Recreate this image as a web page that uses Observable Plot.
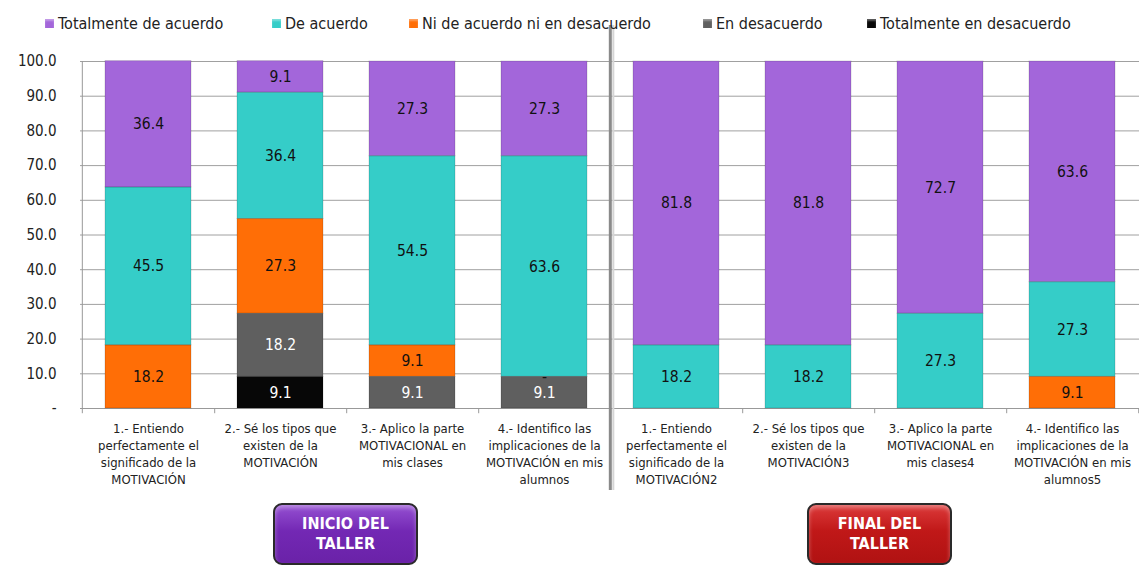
<!DOCTYPE html>
<html><head><meta charset="utf-8">
<script src="https://cdn.jsdelivr.net/npm/d3@7"></script>
<script src="https://cdn.jsdelivr.net/npm/@observablehq/plot@0.6"></script>
<style>
body{margin:0;background:#fff;font-family:"DejaVu Sans Condensed","DejaVu Sans",sans-serif;}
#wrap{position:relative;width:1139px;height:571px;overflow:hidden;}
#chart{position:absolute;left:0;top:0;}
.leg{position:absolute;top:12px;height:22px;font-size:16px;color:#222;display:flex;align-items:center;white-space:nowrap;}
.sw{width:9px;height:9px;margin-right:4px;box-shadow:inset 0 2px 2px rgba(255,255,255,0.35);}
.box{position:absolute;top:503px;width:145px;height:62px;border-radius:9px;border:2px solid #2a2a2a;box-sizing:border-box;color:#fff;font-weight:bold;font-size:16px;line-height:20px;text-align:center;display:flex;align-items:center;justify-content:center;white-space:pre;box-shadow:inset 0 3px 4px rgba(255,255,255,0.35);}
</style></head>
<body><div id="wrap"><div id="chart"></div></div>
<script>
const categories = [
  "1.- Entiendo\nperfectamente el\nsignificado de la\nMOTIVACIÓN",
  "2.- Sé los tipos que\nexisten de la\nMOTIVACIÓN",
  "3.- Aplico la parte\nMOTIVACIONAL en\nmis clases",
  "4.- Identifico las\nimplicaciones de la\nMOTIVACIÓN en mis\nalumnos",
  "1.- Entiendo\nperfectamente el\nsignificado de la\nMOTIVACIÓN2",
  "2.- Sé los tipos que\nexisten de la\nMOTIVACIÓN3",
  "3.- Aplico la parte\nMOTIVACIONAL en\nmis clases4",
  "4.- Identifico las\nimplicaciones de la\nMOTIVACIÓN en mis\nalumnos5"
];
const series = ["Totalmente de acuerdo","De acuerdo","Ni de acuerdo ni en desacuerdo","En desacuerdo","Totalmente en desacuerdo"];
const totalmenteDeAcuerdo = [36.4, 9.1, 27.3, 27.3, 81.8, 81.8, 72.7, 63.6];
const deAcuerdo           = [45.5, 36.4, 54.5, 63.6, 18.2, 18.2, 27.3, 27.3];
const niAcuerdo           = [18.2, 27.3, 9.1, 0, null, null, null, 9.1];
const enDesacuerdo        = [null, 18.2, 9.1, 9.1, null, null, null, null];
const totalDesacuerdo     = [null, 9.1, null, null, null, null, null, null];
const yTicks = [0,10,20,30,40,50,60,70,80,90,100];
const stages = ["INICIO DEL\nTALLER","FINAL DEL\nTALLER"];

const colors = ["#a366da","#35cdc8","#ff6e06","#5f5f5f","#070707"];
const textColors = ["#111","#111","#111","#fff","#fff"];
const seriesValues = [totalmenteDeAcuerdo, deAcuerdo, niAcuerdo, enDesacuerdo, totalDesacuerdo];

const data = [];
series.forEach((s, i) => {
  seriesValues[i].forEach((v, j) => {
    if (v !== null) data.push({cat: categories[j], series: s, value: v, tc: textColors[i]});
  });
});
const stackOrder = series.slice().reverse();

const W = 1139, H = 500, ML = 80, MR = 0, MT = 61, MB = 92;
const step = (W - ML - MR) / categories.length;
const font = '"DejaVu Sans Condensed","DejaVu Sans",sans-serif';

const plot = Plot.plot({
  width: W, height: H,
  marginLeft: ML, marginRight: MR, marginTop: MT, marginBottom: MB,
  style: {fontFamily: font, background: "transparent", overflow: "visible"},
  x: {domain: categories, paddingInner: 0.35, paddingOuter: 0.175, axis: null, label: null},
  y: {domain: [0, 100], axis: null, label: null},
  color: {domain: series, range: colors},
  marks: [
    Plot.gridY(yTicks.slice(1), {stroke: "#a0a0a0", strokeOpacity: 1}),
    Plot.axisY(yTicks, {tickSize: 0, tickPadding: 24, label: null, tickFormat: d => d === 0 ? "-" : d.toFixed(1), fontSize: 15, fill: "#222"}),
    Plot.ruleY([0], {stroke: "#999"}),
    Plot.ruleX([categories[0]], {dx: -step / 2, y1: -1.5, y2: 100, stroke: "#999"}),
    Plot.ruleX(categories, {dx: step / 2, y1: -1.5, y2: 0, stroke: "#999"}),
    Plot.barY(data, Plot.stackY({x: "cat", y: "value", fill: "series", order: stackOrder})),
    Plot.barY(data, Plot.stackY({x: "cat", y: "value", z: "series", order: stackOrder, fill: "white", fillOpacity: 0.0, stroke: "#000", strokeOpacity: 0.15})),
    Plot.text(data, Plot.stackY({x: "cat", y: "value", z: "series", order: stackOrder,
      text: d => d.value === 0 ? "-" : d.value.toFixed(1),
      fill: {value: "tc", scale: null}, fontSize: 15.5})),
    Plot.ruleX([categories[4]], {dx: -step / 2, insetTop: -36, insetBottom: -82, stroke: "#8a8a8a", strokeWidth: 3}),
    Plot.ruleX([categories[4]], {dx: -step / 2 + 3, insetTop: -36, insetBottom: -82, stroke: "#d5d5d5", strokeWidth: 2}),
    Plot.text(categories, {x: d => d, frameAnchor: "bottom", lineAnchor: "top", dy: 12, lineHeight: 1.32, fontSize: 13, fill: "#222"})
  ]
});
document.getElementById("chart").appendChild(plot);

const wrap = document.getElementById("wrap");
const legLeft = [45, 272, 409, 703, 867];
series.forEach((s, i) => {
  const d = document.createElement("div");
  d.className = "leg";
  d.style.left = legLeft[i] + "px";
  d.innerHTML = `<span class="sw" style="background:${colors[i]}"></span><span>${s}</span>`;
  wrap.appendChild(d);
});
const boxLeft = [273, 807];
const boxBg = ["linear-gradient(#9550d2,#7328b4 45%,#6a22a8)", "linear-gradient(#dc3a3a,#c01818 45%,#b01212)"];
stages.forEach((t, i) => {
  const b = document.createElement("div");
  b.className = "box";
  b.style.left = boxLeft[i] + "px";
  b.style.background = boxBg[i];
  b.textContent = t;
  wrap.appendChild(b);
});
</script>
</body></html>
